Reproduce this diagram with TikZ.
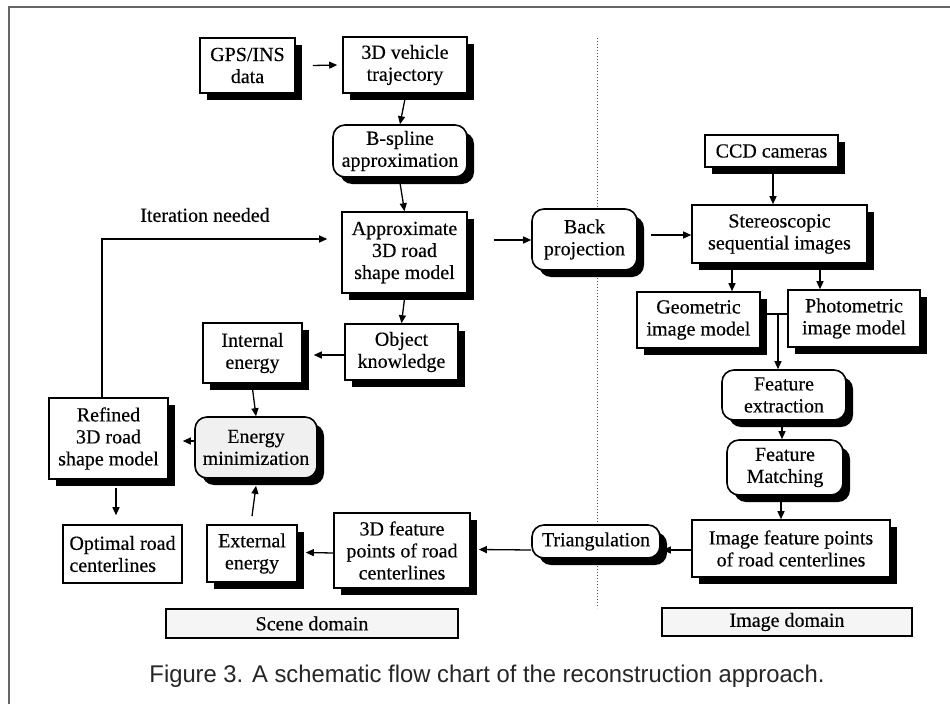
\documentclass[tikz,border=0pt]{standalone}
\usepackage{fontspec}
\usepackage{graphicx}
\setmainfont[FakeBold=0.35]{Liberation Serif}
\newfontfamily\capfont{Liberation Sans}
\usetikzlibrary{arrows.meta,shadows,calc}
\tikzset{
  box/.style={draw, line width=1.6pt, fill=white, align=center, inner sep=1pt,
    font=\fontsize{20}{22}\selectfont,
    drop shadow={shadow xshift=7pt, shadow yshift=-7pt, opacity=1, fill=black}},
  rbox/.style={box, rounded corners=12pt},
  nobox/.style={draw, line width=1.6pt, fill=white, align=left, inner sep=1pt,
    font=\fontsize{20}{22}\selectfont},
  dombox/.style={draw, line width=1.8pt, fill=gray!8, inner sep=1pt,
    font=\fontsize{20}{22}\selectfont},
  arr/.style={-{Triangle[length=8pt,width=7pt]}, line width=1.3pt},
  ln/.style={line width=1.3pt},
}
\begin{document}
\begin{tikzpicture}[x=1pt,y=-1pt]
\useasboundingbox (0,0) rectangle (950,704);
% frame
\draw[black!60, line width=1.5pt] (9,704) -- (9,7) -- (950,7);
% dotted separator
\coordinate (dtop) at (597,38);
\coordinate (dbot) at (597,608);
\draw[black!70, line width=1pt, dotted] (dtop) -- (dbot);

% scene side
\node[box, minimum width=95pt, minimum height=55pt] (gps) at (247.5,65.5) {GPS/INS\\data};
\node[box, minimum width=124pt, minimum height=56pt] (traj) at (405,65) {3D vehicle\\trajectory};
\node[rbox, minimum width=134pt, minimum height=52pt] (bsp) at (400,151) {B-spline\\approximation};
\node[box, minimum width=125pt, minimum height=81pt] (appr) at (404.5,252.5) {Approximate\\3D road\\shape model};
\node[box, minimum width=113pt, minimum height=56pt] (objk) at (401.5,352) {Object\\knowledge};
\node[box, minimum width=99pt, minimum height=60pt] (inte) at (252.5,353) {Internal\\energy};
\node[rbox, fill=gray!12, minimum width=122pt, minimum height=61pt] (emin) at (256,447.5) {Energy\\minimization};
\node[box, minimum width=119pt, minimum height=81pt] (refd) at (108.5,438.5) {Refined\\3D road\\shape model};
\node[nobox, minimum width=119pt, minimum height=58pt] (opt) at (122.5,554) {Optimal road\\centerlines};
\node[box, minimum width=90pt, minimum height=57pt] (exte) at (252,553.5) {External\\energy};
\node[box, minimum width=136pt, minimum height=75pt] (f3d) at (402,550.5) {3D feature\\points of road\\centerlines};

% image side
\node[rbox, minimum width=105pt, minimum height=61pt] (back) at (584.5,239.5) {Back\\projection};
\node[box, minimum width=133pt, minimum height=32pt] (ccd) at (771.5,151) {CCD cameras};
\node[box, minimum width=175pt, minimum height=58pt] (ster) at (779.5,234) {Stereoscopic\\sequential images};
\node[box, minimum width=123pt, minimum height=56pt] (geo) at (698.5,320) {Geometric\\image model};
\node[box, minimum width=132pt, minimum height=57pt] (pho) at (854,318.5) {Photometric\\image model};
\node[rbox, minimum width=124pt, minimum height=50pt] (fext) at (784,395) {Feature\\extraction};
\node[rbox, minimum width=116pt, minimum height=55pt] (fmat) at (785,467.5) {Feature\\Matching};
\node[box, minimum width=198pt, minimum height=57pt] (ifp) at (791,548.5) {Image feature points\\of road centerlines};
\node[rbox, minimum width=128pt, minimum height=33pt] (tri) at (596,541.5) {Triangulation};

% domain labels
\node[dombox, minimum width=292pt, minimum height=29pt] (scd) at (312,623.5) {Scene domain};
\node[dombox, minimum width=250pt, minimum height=28pt] (imd) at (787,622) {Image domain};

% label
\node[font=\fontsize{20}{22}\selectfont] (itn) at (205,215) {Iteration needed};

% caption
\node[anchor=base, inner sep=0pt, text=black!85] (cap) at (487,682)
  {\resizebox{675pt}{17.5pt}{\capfont Figure 3. A schematic flow chart of the reconstruction approach.}};

% connectors scene side
\draw[arr] ([xshift=17pt]gps.east) -- ([xshift=-5pt]traj.west);
\draw[arr] ([yshift=-5pt]traj.south) -- (bsp.north);
\draw[arr] ([yshift=-5pt]bsp.south) -- (appr.north);
\draw[arr] ([xshift=-6.5pt]refd.north) |- ([xshift=-14pt,yshift=13.5pt]appr.west);
\draw[arr] ([yshift=-5pt]appr.south) -- (objk.north);
\draw[arr] ([yshift=-3pt]objk.west) -- ([xshift=11pt,yshift=-2pt]inte.east);
\draw[arr] ([yshift=-5pt]inte.south) -- (emin.north);
\draw[arr] ([yshift=6.5pt]emin.west) -- ([xshift=14pt,yshift=-2.5pt]refd.east);
\draw[arr] ([xshift=7.5pt,yshift=-8pt]refd.south) -- ([xshift=-6.5pt,yshift=9pt]opt.north);
\draw[arr] ([yshift=8pt]exte.north) -- ([yshift=-7pt]emin.south);
\draw[arr] ([yshift=-2.5pt]f3d.west) -- ([xshift=8pt,yshift=1pt]exte.east);
\draw[arr] ([yshift=-8.5pt]tri.west) -- ([xshift=8pt,yshift=1pt]f3d.east);

% connectors image side
\draw[arr] ([xshift=26pt,yshift=12.5pt]appr.east) -- ([yshift=-0.5pt]back.west);
\draw[arr] ([xshift=13pt,yshift=4.5pt]back.east) -- ([yshift=-1pt]ster.west);
\draw[arr] ([xshift=1.5pt,yshift=-5pt]ccd.south) -- ([xshift=-6.5pt]ster.north);
\draw[arr] ([xshift=-47.5pt,yshift=-5pt]ster.south) -- ([xshift=33.5pt]geo.north);
\draw[arr] ([xshift=40.5pt,yshift=-5pt]ster.south) -- ([xshift=-34pt]pho.north);
\coordinate (mj) at (778,314);
\draw[ln] ([yshift=6pt]geo.east) -- ([yshift=4.5pt]pho.west);
\draw[arr] (mj) -- (mj |- fext.north);
\draw[arr] ([xshift=-2pt,yshift=-3pt]fext.south) -- ([xshift=-3pt]fmat.north);
\draw[arr] ([xshift=-4pt,yshift=-5pt]fmat.south) -- ([xshift=-10pt]ifp.north);
\draw[arr] ([yshift=-1.5pt]ifp.west) -- ([xshift=2pt,yshift=-8.5pt]tri.east);
\end{tikzpicture}
\end{document}
